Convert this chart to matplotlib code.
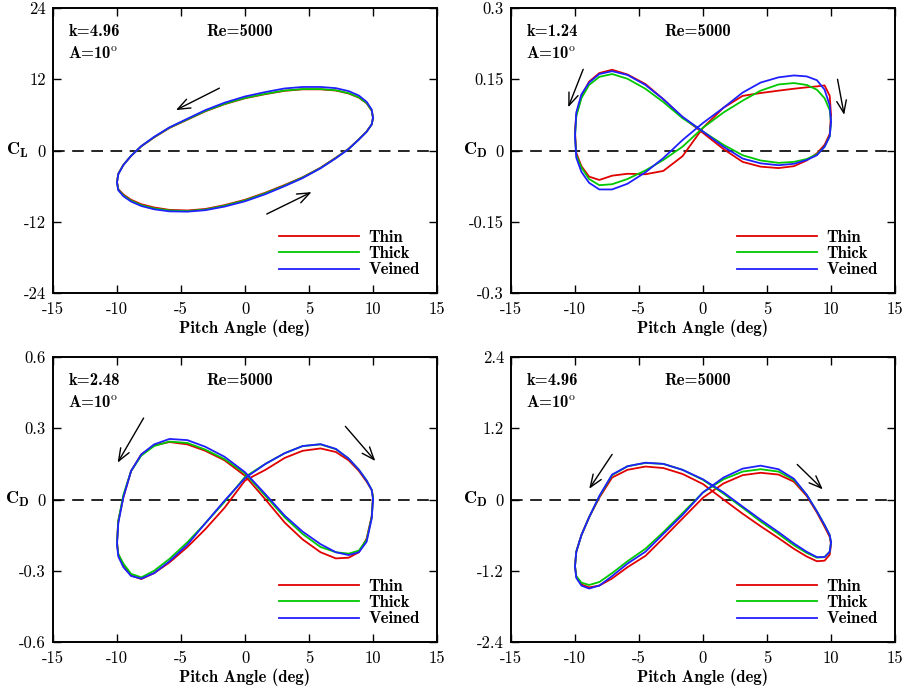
import matplotlib
matplotlib.use("Agg")
import matplotlib.pyplot as plt

plt.rcParams["font.family"] = "cmr10"
plt.rcParams["mathtext.fontset"] = "cm"
plt.rcParams["axes.unicode_minus"] = False

# pitch angle over one cycle: 10 -> -10 (downstroke), then -10 -> 10 (upstroke)
PITCH = [10, 9.9, 9.5, 8.9, 8.1, 7.1, 5.9, 4.5, 3.1, 1.6, 0,
         -1.6, -3.1, -4.5, -5.9, -7.1, -8.1, -8.9, -9.5, -9.9, -10,
         -9.9, -9.5, -8.9, -8.1, -7.1, -5.9, -4.5, -3.1, -1.6, 0,
         1.6, 3.1, 4.5, 5.9, 7.1, 8.1, 8.9, 9.5, 9.9, 10]

# CL, k=4.96
CL_K496_THIN = [5.5, 6.7, 7.95, 8.9, 9.6, 10.1, 10.3, 10.3, 10.05, 9.5, 8.8,
                7.8, 6.6, 5.2, 3.8, 2.2, 0.7, -0.9, -2.4, -3.9, -5.3,
                -6.5, -7.4, -8.3, -9.05, -9.6, -10.0, -10.1, -9.85, -9.2, -8.3,
                -7.1, -5.8, -4.5, -2.9, -1.2, 0.3, 1.9, 3.2, 4.4, 5.5]
CL_K496_THICK = [5.5, 6.75, 8.0, 8.95, 9.65, 10.15, 10.35, 10.35, 10.1, 9.55, 8.85,
                 7.85, 6.65, 5.25, 3.85, 2.25, 0.72, -0.9, -2.42, -3.95, -5.35,
                 -6.6, -7.55, -8.45, -9.2, -9.75, -10.1, -10.2, -9.95, -9.3, -8.4,
                 -7.2, -5.9, -4.55, -2.95, -1.25, 0.28, 1.88, 3.18, 4.4, 5.5]
CL_K496_VEINED = [5.5, 6.9, 8.2, 9.25, 10.0, 10.5, 10.7, 10.7, 10.45, 9.85, 9.1,
                  8.05, 6.8, 5.35, 3.9, 2.3, 0.75, -0.9, -2.45, -4.0, -5.4,
                  -6.7, -7.7, -8.6, -9.35, -9.9, -10.25, -10.3, -10.05, -9.45, -8.55,
                  -7.35, -6.0, -4.65, -3.0, -1.3, 0.25, 1.85, 3.15, 4.4, 5.5]

# CD, k=1.24
CD_K124_THIN = [0.075, 0.035, 0.012, -0.006, -0.021, -0.033, -0.037, -0.034, -0.024, 0.003, 0.037,
                0.07, 0.108, 0.14, 0.16, 0.17, 0.163, 0.145, 0.115, 0.075, 0.04,
                -0.005, -0.033, -0.055, -0.062, -0.053, -0.049, -0.05, -0.043, -0.012, 0.048,
                0.09, 0.115, 0.121, 0.126, 0.13, 0.133, 0.135, 0.137, 0.115, 0.075]
CD_K124_THICK = [0.06, 0.03, 0.008, -0.008, -0.018, -0.024, -0.026, -0.021, -0.01, 0.012, 0.04,
                 0.068, 0.102, 0.13, 0.151, 0.161, 0.155, 0.138, 0.11, 0.072, 0.03,
                 -0.01, -0.036, -0.06, -0.073, -0.071, -0.06, -0.042, -0.02, 0.008, 0.048,
                 0.08, 0.105, 0.126, 0.139, 0.142, 0.138, 0.128, 0.11, 0.085, 0.06]
CD_K124_VEINED = [0.06, 0.03, 0.008, -0.01, -0.02, -0.028, -0.031, -0.027, -0.017, 0.008, 0.04,
                  0.071, 0.108, 0.138, 0.159, 0.167, 0.161, 0.143, 0.118, 0.08, 0.03,
                  -0.015, -0.045, -0.068, -0.082, -0.082, -0.07, -0.046, -0.016, 0.022, 0.058,
                  0.09, 0.122, 0.143, 0.154, 0.158, 0.156, 0.148, 0.128, 0.095, 0.06]

# CD, k=2.48
CD_K248_THIN = [0.01, -0.07, -0.165, -0.222, -0.245, -0.248, -0.222, -0.168, -0.097, 0.0, 0.1,
                0.165, 0.205, 0.232, 0.242, 0.228, 0.19, 0.12, 0.01, -0.09, -0.18,
                -0.23, -0.275, -0.32, -0.335, -0.31, -0.265, -0.2, -0.125, -0.035, 0.08,
                0.125, 0.175, 0.205, 0.215, 0.2, 0.165, 0.12, 0.075, 0.04, 0.01]
CD_K248_THICK = [0.01, -0.075, -0.17, -0.215, -0.228, -0.222, -0.2, -0.145, -0.075, 0.015, 0.11,
                 0.17, 0.21, 0.238, 0.244, 0.225, 0.185, 0.12, 0.02, -0.09, -0.18,
                 -0.23, -0.27, -0.313, -0.328, -0.3, -0.25, -0.18, -0.1, -0.01, 0.095,
                 0.15, 0.195, 0.225, 0.232, 0.212, 0.172, 0.125, 0.08, 0.04, 0.01]
CD_K248_VEINED = [0.0, -0.08, -0.178, -0.222, -0.234, -0.222, -0.188, -0.135, -0.068, 0.022, 0.115,
                  0.18, 0.222, 0.25, 0.255, 0.232, 0.19, 0.12, 0.01, -0.1, -0.19,
                  -0.24, -0.285, -0.322, -0.333, -0.31, -0.26, -0.19, -0.1, -0.005, 0.09,
                  0.15, 0.195, 0.225, 0.233, 0.213, 0.172, 0.125, 0.08, 0.04, 0.0]

# CD, k=4.96
CD_K496_THIN = [-0.75, -0.93, -1.03, -1.04, -0.96, -0.83, -0.65, -0.45, -0.24, 0.0, 0.26,
                0.43, 0.53, 0.555, 0.5, 0.37, 0.03, -0.3, -0.6, -0.88, -1.12,
                -1.3, -1.43, -1.48, -1.45, -1.33, -1.14, -0.95, -0.65, -0.32, 0.03,
                0.27, 0.41, 0.45, 0.42, 0.3, 0.06, -0.22, -0.46, -0.63, -0.75]
CD_K496_THICK = [-0.72, -0.88, -0.97, -0.98, -0.9, -0.77, -0.58, -0.37, -0.14, 0.1, 0.33,
                 0.5, 0.6, 0.615, 0.56, 0.41, 0.05, -0.3, -0.6, -0.88, -1.12,
                 -1.29, -1.4, -1.44, -1.39, -1.24, -1.04, -0.83, -0.55, -0.23, 0.12,
                 0.34, 0.47, 0.51, 0.47, 0.33, 0.08, -0.2, -0.43, -0.6, -0.72]
CD_K496_VEINED = [-0.72, -0.88, -0.97, -0.97, -0.88, -0.74, -0.55, -0.34, -0.12, 0.12, 0.34,
                  0.5, 0.6, 0.62, 0.56, 0.42, 0.06, -0.3, -0.6, -0.88, -1.13,
                  -1.32, -1.45, -1.5, -1.45, -1.29, -1.08, -0.88, -0.58, -0.26, 0.12,
                  0.37, 0.52, 0.57, 0.51, 0.35, 0.08, -0.2, -0.43, -0.6, -0.72]

SERIES = ["Thin", "Thick", "Veined"]
COLORS = ["#e00000", "#00c800", "#2020ff"]

X_TICKS = [-15, -10, -5, 0, 5, 10, 15]
X_LABELS = ["-15", "-10", "-5", "0", "5", "10", "15"]

panels = [
    dict(pos=(53, 8), curves=[CL_K496_THIN, CL_K496_THICK, CL_K496_VEINED],
         ylabel=r"$\mathbf{C_L}$", k="4.96",
         yticks=[-24, -12, 0, 12, 24], ylabels=["-24", "-12", "0", "12", "24"],
         arrows=[((-2.0, 10.5), (-5.4, 6.8)), ((1.7, -10.7), (5.2, -7.0))]),
    dict(pos=(511, 8), curves=[CD_K124_THIN, CD_K124_THICK, CD_K124_VEINED],
         ylabel=r"$\mathbf{C_D}$", k="1.24",
         yticks=[-0.3, -0.15, 0, 0.15, 0.3], ylabels=["-0.3", "-0.15", "0", "0.15", "0.3"],
         arrows=[((-9.36, 0.171), (-10.53, 0.091)), ((10.51, 0.15), (11.03, 0.075))]),
    dict(pos=(53, 357), curves=[CD_K248_THIN, CD_K248_THICK, CD_K248_VEINED],
         ylabel=r"$\mathbf{C_D}$", k="2.48",
         yticks=[-0.6, -0.3, 0, 0.3, 0.6], ylabels=["-0.6", "-0.3", "0", "0.3", "0.6"],
         arrows=[((-7.92, 0.343), (-9.95, 0.155)), ((7.84, 0.308), (10.18, 0.162))]),
    dict(pos=(511, 357), curves=[CD_K496_THIN, CD_K496_THICK, CD_K496_VEINED],
         ylabel=r"$\mathbf{C_D}$", k="4.96",
         yticks=[-2.4, -1.2, 0, 1.2, 2.4], ylabels=["-2.4", "-1.2", "0", "1.2", "2.4"],
         arrows=[((-7.1, 0.76), (-8.89, 0.18)), ((7.36, 0.59), (9.36, 0.17))]),
]

W, H = 907, 691
AX_W, AX_H = 384, 285

fig = plt.figure(figsize=(W / 100, H / 100), dpi=100)
bold = "cmb10"

for p in panels:
    left, top = p["pos"]
    ax = fig.add_axes([left / W, 1 - (top + AX_H) / H, AX_W / W, AX_H / H])

    ax.axhline(0, color="k", lw=1.2, ls=(0, (7, 4.5)), zorder=1)
    for name, color, vals in zip(SERIES, COLORS, p["curves"]):
        ax.plot(PITCH, vals, color=color, lw=1.3, label=name, zorder=2,
                solid_joinstyle="round")

    for start, end in p["arrows"]:
        ax.annotate("", xy=end, xytext=start,
                    arrowprops=dict(arrowstyle="->,head_length=0.9,head_width=0.35",
                                    color="k", lw=1.0, shrinkA=0, shrinkB=0))

    yt = p["yticks"]
    ax.set_xlim(-15, 15)
    ax.set_ylim(yt[0], yt[-1])
    ax.set_xticks(X_TICKS)
    ax.set_xticklabels(X_LABELS)
    ax.set_yticks(yt)
    ax.set_yticklabels(p["ylabels"])
    ax.tick_params(direction="in", length=6, width=1, top=True, right=True,
                   labelsize=12)
    ax.tick_params(axis="x", pad=6)
    ax.tick_params(axis="y", pad=5)
    for s in ax.spines.values():
        s.set_linewidth(1.4)

    ax.set_xlabel("Pitch Angle (deg)", fontfamily=bold, fontsize=12, labelpad=2)
    ax.text(-0.092, 0.5, p["ylabel"], transform=ax.transAxes, fontsize=13,
            ha="center", va="center")

    ax.text(0.04, 0.918, "k=" + p["k"], transform=ax.transAxes,
            fontfamily=bold, fontsize=12, va="center")
    ax.text(0.40, 0.918, "Re=5000", transform=ax.transAxes,
            fontfamily=bold, fontsize=12, va="center")
    ax.text(0.04, 0.843, r"A=10$^{\rm o}$", transform=ax.transAxes,
            fontfamily=bold, fontsize=12, va="center")

    ax.legend(loc="upper left", bbox_to_anchor=(0.589, 0.222), frameon=False,
              prop=dict(family=bold, size=12), handlelength=4.8,
              handletextpad=0.55, labelspacing=0.08, borderpad=0,
              borderaxespad=0)

fig.savefig("out.png", dpi=100)
